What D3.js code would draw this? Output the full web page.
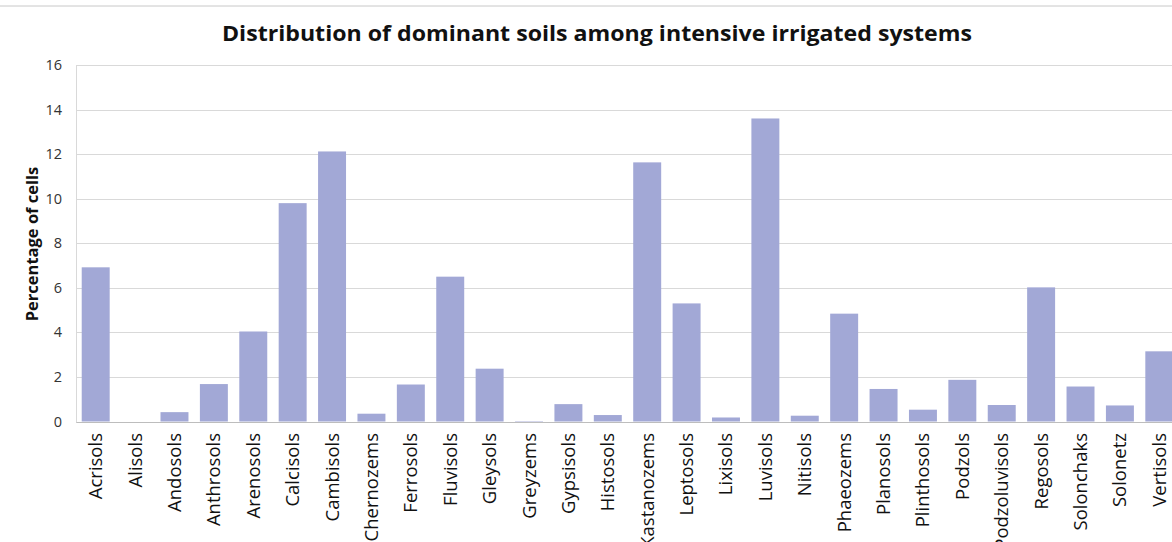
<!DOCTYPE html>
<html>
<head>
<meta charset="utf-8">
<script src="https://cdn.jsdelivr.net/npm/d3@7"></script>
<style>
  html, body { margin: 0; padding: 0; background: #fff; }
  svg { display: block; }
</style>
</head>
<body>
<svg id="chart" width="1172" height="542"></svg>
<script>
// ===== Data =====
const soils = [
  "Acrisols", "Alisols", "Andosols", "Anthrosols", "Arenosols", "Calcisols", "Cambisols",
  "Chernozems", "Ferrosols", "Fluvisols", "Gleysols", "Greyzems", "Gypsisols", "Histosols",
  "Kastanozems", "Leptosols", "Lixisols", "Luvisols", "Nitisols", "Phaeozems", "Planosols",
  "Plinthosols", "Podzols", "Podzoluvisols", "Regosols", "Solonchaks", "Solonetz", "Vertisols"
];
const percentages = [
  6.92, 0, 0.42, 1.68, 4.04, 9.8, 12.12,
  0.35, 1.66, 6.5, 2.37, 0.02, 0.78, 0.29,
  11.63, 5.3, 0.18, 13.6, 0.26, 4.84, 1.46,
  0.53, 1.87, 0.74, 6.02, 1.57, 0.72, 3.15
];
const yTicks = [0, 2, 4, 6, 8, 10, 12, 14, 16];

const chartTitle = "Distribution of dominant soils among intensive irrigated systems";
const yTitle = "Percentage of cells";

// ===== Layout =====
const svg = d3.select("#chart");
const margin = { left: 76, top: 65, bottom: 421.5 };
const plotRight = 1179;
const font = "'Open Sans', 'DejaVu Sans', sans-serif";

const x = d3.scaleBand()
  .domain(soils)
  .range([margin.left, plotRight])
  .paddingInner(0.29)
  .paddingOuter(0.145);

const y = d3.scaleLinear()
  .domain([0, 16])
  .range([margin.bottom, margin.top]);

// top border line
svg.append("line")
  .attr("x1", 0).attr("x2", 1172)
  .attr("y1", 6).attr("y2", 6)
  .attr("stroke", "#c8c8c8")
  .attr("stroke-width", 1);

// gridlines
svg.append("g")
  .selectAll("line")
  .data(yTicks)
  .enter()
  .append("line")
  .attr("x1", margin.left)
  .attr("x2", 1172)
  .attr("y1", d => Math.round(y(d)) + 0.5)
  .attr("y2", d => Math.round(y(d)) + 0.5)
  .attr("stroke", d => d === 0 ? "#bdbdbd" : "#d9d9d9")
  .attr("stroke-width", 1);

// left plot border
svg.append("line")
  .attr("x1", margin.left + 0.5).attr("x2", margin.left + 0.5)
  .attr("y1", Math.round(y(16)) + 0.5).attr("y2", Math.round(y(0)) + 0.5)
  .attr("stroke", "#d9d9d9");

// y tick labels
svg.append("g")
  .selectAll("text")
  .data(yTicks)
  .enter()
  .append("text")
  .attr("x", 62)
  .attr("y", d => y(d))
  .attr("dy", "0.35em")
  .attr("text-anchor", "end")
  .style("font-family", font)
  .style("font-size", "14.5px")
  .style("fill", "#333")
  .text(d => d);

// bars
svg.append("g")
  .selectAll("rect")
  .data(soils)
  .enter()
  .append("rect")
  .attr("x", d => x(d))
  .attr("width", x.bandwidth())
  .attr("y", (d, i) => y(percentages[i]))
  .attr("height", (d, i) => y(0) - y(percentages[i]))
  .attr("fill", "#a2a8d6");

// x labels (rotated)
svg.append("g")
  .selectAll("text")
  .data(soils)
  .enter()
  .append("text")
  .attr("transform", d => `translate(${x(d) + x.bandwidth() / 2 + 6.5},433) rotate(-90)`)
  .attr("text-anchor", "end")
  .style("font-family", font)
  .style("font-size", "18.5px")
  .style("fill", "#111")
  .text(d => d);

// y axis title
svg.append("text")
  .attr("transform", "translate(38,244) rotate(-90)")
  .attr("text-anchor", "middle")
  .style("font-family", font)
  .style("font-size", "16.5px")
  .style("font-weight", "bold")
  .style("fill", "#111")
  .text(yTitle);

// title
svg.append("text")
  .attr("x", 597)
  .attr("y", 41)
  .attr("text-anchor", "middle")
  .attr("textLength", 750)
  .attr("lengthAdjust", "spacingAndGlyphs")
  .style("font-family", font)
  .style("font-size", "21px")
  .style("font-weight", "bold")
  .style("fill", "#111")
  .text(chartTitle);
</script>
</body>
</html>
